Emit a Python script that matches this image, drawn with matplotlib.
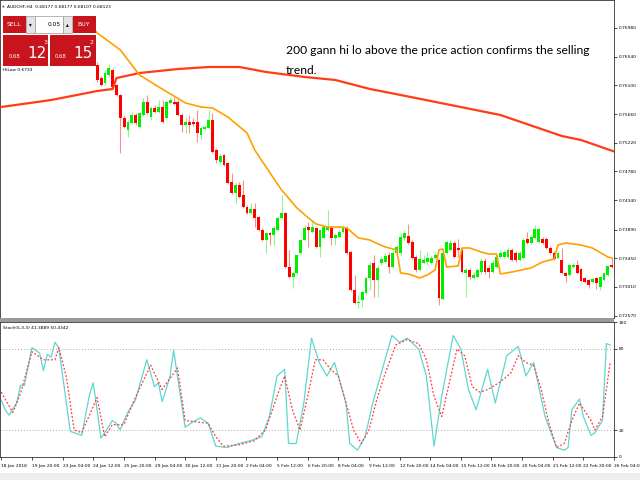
import matplotlib
matplotlib.use("Agg")
import matplotlib.pyplot as plt
from matplotlib.patches import Rectangle

# ---- data (AUDCHF H4) ----
first_bar = 25  # visible candles start here (earlier ones sit under the trade panel)

opens = [0.76413, 0.76213, 0.76137, 0.76259, 0.76336, 0.76106, 0.75953, 0.75600, 0.75416, 0.75524,
         0.75646, 0.75462, 0.75646, 0.75845, 0.75616, 0.75753, 0.75692, 0.75769, 0.75600, 0.75830,
         0.75845, 0.75845, 0.75646, 0.75493, 0.75539, 0.75539, 0.75539, 0.75340, 0.75432, 0.75447,
         0.75570, 0.75110, 0.74926, 0.75033, 0.74910, 0.74619, 0.74450, 0.74573, 0.74420, 0.74236,
         0.74144, 0.74205, 0.74082, 0.73883, 0.73730, 0.73837, 0.73806, 0.73883, 0.74067, 0.74144,
         0.73316, 0.73163, 0.73224, 0.73531, 0.73730, 0.73929, 0.73852, 0.73914, 0.73622, 0.73760,
         0.73883, 0.73914, 0.73760, 0.73776, 0.73852, 0.73914, 0.73546, 0.72963, 0.72764, 0.72810,
         0.72917, 0.73147, 0.73377, 0.73117, 0.73377, 0.73393, 0.73500, 0.73316, 0.73531, 0.73531,
         0.73760, 0.73791, 0.73699, 0.73469, 0.73270, 0.73377, 0.73393, 0.73377, 0.73454, 0.73423,
         0.72825, 0.73531, 0.73577, 0.73684, 0.73607, 0.73577, 0.73224, 0.73270, 0.73147, 0.73163,
         0.73239, 0.73408, 0.73301, 0.73239, 0.73316, 0.73469, 0.73469, 0.73469, 0.73577, 0.73531,
         0.73423, 0.73454, 0.73745, 0.73684, 0.73760, 0.73699, 0.73745, 0.73745, 0.73607, 0.73531,
         0.73454, 0.73423, 0.73224, 0.73193, 0.73316, 0.73347, 0.73285, 0.73147, 0.73117, 0.73086,
         0.73147, 0.73009, 0.73117, 0.73193, 0.73347]
highs = [0.76459, 0.76244, 0.76336, 0.76428, 0.76367, 0.76121, 0.75968, 0.75646, 0.75570, 0.75692,
         0.75677, 0.75692, 0.75907, 0.75953, 0.75784, 0.75799, 0.75876, 0.75876, 0.75876, 0.75907,
         0.75922, 0.75876, 0.75677, 0.75616, 0.75646, 0.75600, 0.75723, 0.75478, 0.75493, 0.75723,
         0.75677, 0.75140, 0.75048, 0.75048, 0.74926, 0.74757, 0.74604, 0.74619, 0.74650, 0.74266,
         0.74297, 0.74297, 0.74098, 0.73914, 0.73852, 0.73852, 0.73944, 0.74098, 0.74420, 0.74159,
         0.73577, 0.73239, 0.73515, 0.73745, 0.73960, 0.74006, 0.74036, 0.73929, 0.73898, 0.73960,
         0.74190, 0.73944, 0.73837, 0.73883, 0.73960, 0.73944, 0.73561, 0.73193, 0.72887, 0.72963,
         0.73163, 0.73393, 0.73500, 0.73347, 0.73485, 0.73531, 0.73546, 0.73577, 0.73653, 0.73837,
         0.73883, 0.73975, 0.73730, 0.73500, 0.73577, 0.73500, 0.73546, 0.73500, 0.73546, 0.73454,
         0.73577, 0.73730, 0.73730, 0.73714, 0.73745, 0.73607, 0.73301, 0.73301, 0.73239, 0.73301,
         0.73454, 0.73454, 0.73347, 0.73423, 0.73500, 0.73577, 0.73577, 0.73622, 0.73607, 0.73561,
         0.73561, 0.73760, 0.73852, 0.73806, 0.73960, 0.73914, 0.73776, 0.73776, 0.73638, 0.73561,
         0.73561, 0.73607, 0.73239, 0.73377, 0.73377, 0.73423, 0.73301, 0.73163, 0.73132, 0.73147,
         0.73163, 0.73178, 0.73239, 0.73347, 0.73469]
lows = [0.76152, 0.76091, 0.76106, 0.76229, 0.76060, 0.75937, 0.75064, 0.75447, 0.75309, 0.75508,
        0.75493, 0.75447, 0.75631, 0.75662, 0.75570, 0.75677, 0.75677, 0.75524, 0.75585, 0.75815,
        0.75799, 0.75631, 0.75386, 0.75370, 0.75370, 0.75478, 0.75232, 0.75263, 0.75416, 0.75432,
        0.75064, 0.74910, 0.74895, 0.74864, 0.74588, 0.74435, 0.74297, 0.74374, 0.74220, 0.74128,
        0.74128, 0.73929, 0.73868, 0.73714, 0.73531, 0.73653, 0.73653, 0.73868, 0.74052, 0.73301,
        0.73147, 0.72994, 0.73209, 0.73515, 0.73714, 0.73622, 0.73837, 0.73607, 0.73469, 0.73745,
        0.73868, 0.73653, 0.73653, 0.73760, 0.73837, 0.73515, 0.72948, 0.72749, 0.72687, 0.72703,
        0.72887, 0.72963, 0.72856, 0.72856, 0.73347, 0.73377, 0.73224, 0.73301, 0.73500, 0.73500,
        0.73730, 0.73669, 0.73439, 0.73239, 0.73255, 0.73362, 0.73347, 0.73362, 0.73439, 0.72733,
        0.72810, 0.73515, 0.73561, 0.73454, 0.73469, 0.73224, 0.72856, 0.73132, 0.73132, 0.73147,
        0.73209, 0.73209, 0.73147, 0.73224, 0.73301, 0.73454, 0.73454, 0.73454, 0.73408, 0.73393,
        0.73408, 0.73439, 0.73669, 0.73669, 0.73745, 0.73684, 0.73669, 0.73592, 0.73515, 0.73423,
        0.73439, 0.73209, 0.73086, 0.73178, 0.73301, 0.73209, 0.73086, 0.73071, 0.72994, 0.73071,
        0.72979, 0.72963, 0.73101, 0.73178, 0.73301]
closes = [0.76183, 0.76106, 0.76290, 0.76367, 0.76075, 0.75953, 0.75600, 0.75462, 0.75539, 0.75646,
          0.75524, 0.75677, 0.75845, 0.75677, 0.75753, 0.75692, 0.75769, 0.75539, 0.75845, 0.75876,
          0.75815, 0.75646, 0.75493, 0.75539, 0.75493, 0.75508, 0.75370, 0.75447, 0.75462, 0.75570,
          0.75079, 0.74956, 0.75018, 0.74880, 0.74604, 0.74450, 0.74573, 0.74389, 0.74236, 0.74144,
          0.74205, 0.74067, 0.73883, 0.73730, 0.73837, 0.73806, 0.73914, 0.74067, 0.74144, 0.73316,
          0.73163, 0.73224, 0.73500, 0.73730, 0.73914, 0.73883, 0.73929, 0.73622, 0.73883, 0.73929,
          0.73929, 0.73760, 0.73806, 0.73852, 0.73929, 0.73531, 0.72963, 0.72764, 0.72779, 0.72933,
          0.73147, 0.73347, 0.73117, 0.73301, 0.73439, 0.73485, 0.73316, 0.73531, 0.73622, 0.73776,
          0.73837, 0.73684, 0.73454, 0.73270, 0.73439, 0.73423, 0.73454, 0.73454, 0.73500, 0.72841,
          0.73531, 0.73699, 0.73684, 0.73469, 0.73577, 0.73239, 0.73270, 0.73163, 0.73193, 0.73270,
          0.73408, 0.73239, 0.73239, 0.73377, 0.73469, 0.73531, 0.73546, 0.73577, 0.73423, 0.73423,
          0.73531, 0.73730, 0.73684, 0.73776, 0.73898, 0.73898, 0.73684, 0.73607, 0.73531, 0.73439,
          0.73531, 0.73224, 0.73178, 0.73347, 0.73347, 0.73224, 0.73101, 0.73086, 0.73040, 0.73132,
          0.73071, 0.73163, 0.73224, 0.73331, 0.73316]

# Gann HiLo lines (bar index, price)
hilo_fast_bars = [22, 25, 31, 36, 41, 48, 52, 55, 59, 64, 66, 70, 73, 77, 80, 82, 85, 88, 90, 93, 96,
                  97, 100, 103, 104, 106, 109, 111, 113, 114, 115, 116, 119, 120, 122, 125, 127, 129, 130,
                  133, 138, 141, 144, 145, 147, 151, 154, 158, 159]
hilo_fast = [0.7712, 0.76903, 0.76643, 0.76259, 0.76076, 0.75830, 0.75769, 0.75754, 0.75616, 0.75370,
             0.75110, 0.74757, 0.74497, 0.74221, 0.74067, 0.73975, 0.73929, 0.73929, 0.73914, 0.73761,
             0.73730, 0.73699, 0.73623, 0.73577, 0.73224, 0.73209, 0.73148, 0.73194, 0.73271, 0.73577,
             0.73592, 0.73316, 0.73331, 0.73607, 0.73607, 0.73546, 0.73515, 0.73515, 0.73209, 0.73239,
             0.73301, 0.73393, 0.73439, 0.73653, 0.73684, 0.73653, 0.73607, 0.73469, 0.73454]
hilo_200_bars = [0, 13, 25, 29, 30, 36, 46, 54, 62, 69, 79, 87, 96, 104, 117, 130, 146, 151, 160]
hilo_200 = [0.75769, 0.75876, 0.76014, 0.76045, 0.76213, 0.76290, 0.76351, 0.76382, 0.76382, 0.76305,
            0.76229, 0.76183, 0.76045, 0.75953, 0.75800, 0.75646, 0.75324, 0.75263, 0.75079]

# Stochastic (5,3,3)
stoch_bars = [0, 1, 2, 4, 5, 6, 8, 10, 11, 12, 13, 14, 15, 18, 20, 21, 23, 24, 25, 26, 27, 29, 30, 31,
              33, 35, 38, 40, 41, 42, 44, 45, 48, 50, 52, 54, 56, 59, 62, 65, 68, 70, 72, 74, 75, 77,
              79, 81, 83, 85, 87, 90, 91, 93, 95, 97, 100, 102, 104, 106, 109, 111, 113, 115, 118, 120,
              122, 124, 127, 129, 132, 135, 137, 139, 142, 145, 147, 148, 149, 151, 152, 154, 155, 157,
              158, 159]
stoch_main = [42, 35, 31, 40, 53, 53, 81, 77, 64, 76, 74, 85, 81, 19, 17, 16, 46, 55, 35, 14, 18, 27, 25,
              20, 33, 42, 72, 52, 55, 41, 59, 79, 22, 26, 29, 25, 8, 7, 10, 12, 15, 30, 60, 65, 10, 10,
              40, 88, 70, 60, 70, 40, 10, 5, 15, 40, 70, 90, 85, 88, 80, 60, 8, 45, 90, 80, 50, 35, 65,
              40, 75, 82, 60, 70, 30, 7, 5, 7, 35, 43, 30, 16, 18, 27, 84, 83]
signal_bars = [0, 3, 5, 8, 11, 14, 15, 17, 19, 21, 25, 27, 29, 32, 35, 39, 42, 46, 48, 51, 54, 56, 58, 62,
               66, 69, 72, 74, 76, 78, 80, 82, 84, 86, 88, 90, 92, 94, 96, 98, 100, 103, 106, 109, 111,
               113, 115, 117, 119, 121, 123, 125, 127, 130, 133, 135, 137, 139, 141, 143, 145, 147, 149,
               151, 154, 155, 157, 159]
stoch_signal = [48, 33, 47, 78, 72, 72, 81, 59, 20, 18, 44, 15, 24, 24, 44, 68, 50, 66, 27, 26, 25, 15, 8,
                9, 12, 20, 45, 60, 35, 20, 45, 72, 72, 65, 60, 40, 20, 10, 20, 42, 60, 83, 87, 84, 72,
                45, 30, 55, 80, 75, 52, 48, 50, 55, 62, 75, 70, 68, 50, 25, 7, 10, 27, 40, 27, 20, 30, 70]

price_ticks = [0.72570, 0.73010, 0.73450, 0.73890, 0.74340, 0.74780, 0.75220, 0.75660, 0.76100, 0.76540, 0.76980]
date_labels = ["18 Jan 2018", "19 Jan 20:00", "23 Jan 04:00", "24 Jan 12:00", "25 Jan 20:00",
               "29 Jan 04:00", "30 Jan 12:00", "31 Jan 20:00", "2 Feb 04:00", "5 Feb 12:00",
               "6 Feb 20:00", "8 Feb 04:00", "9 Feb 12:00", "12 Feb 20:00", "14 Feb 04:00",
               "15 Feb 12:00", "16 Feb 20:00", "20 Feb 04:00", "21 Feb 12:00", "22 Feb 20:00",
               "26 Feb 04:00"]
bars_per_label = 8

small = 3.2  # MT4 uses a very small UI font in this screenshot

fig = plt.figure(figsize=(6.4, 4.8), dpi=100)
W, H = 640.0, 480.0
xlim = (-0.35, 159.6)

# ---- price panel ----
ax = fig.add_axes([0, 1 - 318 / H, 614 / W, 318 / H])
ax.set_xlim(*xlim)
ax.set_ylim(0.72534, 0.77409)

for k in range(len(opens)):
    x = first_bar + k
    o, h, l, c = opens[k], highs[k], lows[k], closes[k]
    col = "#00ee00" if c >= o else "#ff0000"
    ax.vlines(x, l, h, color=col, lw=0.8, alpha=0.45, zorder=2)
    ax.bar(x, max(abs(c - o), 0.00003), bottom=min(o, c), width=0.75, color=col, lw=0, zorder=3)

ax.plot(hilo_200_bars, hilo_200, color="#ff3c14", lw=1.6, zorder=4)
ax.plot(hilo_fast_bars, hilo_fast, color="#ffa000", lw=1.2, zorder=4)

ax.yaxis.tick_right()
ax.set_yticks(price_ticks)
ax.set_yticklabels([f"{p:.5f}" for p in price_ticks], fontsize=small)
ax.tick_params(axis="y", direction="out", length=2, width=0.5, pad=1.5)
ax.set_xticks([])
for s in ax.spines.values():
    s.set_linewidth(0.6)
    s.set_color("#333333")

# ---- stochastic panel ----
ax2 = fig.add_axes([0, 1 - 457 / H, 614 / W, (457 - 322) / H])
ax2.set_xlim(*xlim)
ax2.set_ylim(0, 100)
ax2.axhline(80, color="#aaaaaa", ls=(0, (1, 2)), lw=0.7)
ax2.axhline(20, color="#aaaaaa", ls=(0, (1, 2)), lw=0.7)
ax2.plot(stoch_bars, stoch_main, color="#5fd6d0", lw=0.9)
ax2.plot(signal_bars, stoch_signal, color="#ff3b3b", lw=0.9, ls=(0, (1.5, 1.5)))
ax2.yaxis.tick_right()
ax2.set_yticks([0, 20, 80, 100])
ax2.set_yticklabels(["0", "20", "80", "100"], fontsize=small)
ax2.tick_params(axis="y", direction="out", length=2, width=0.5, pad=1.5)
label_bars = [i * bars_per_label for i in range(len(date_labels))]
ax2.set_xticks(label_bars)
ax2.set_xticklabels(date_labels, fontsize=small, ha="left")
ax2.tick_params(axis="x", direction="out", length=2.5, width=0.5, pad=2.5)
for s in ax2.spines.values():
    s.set_linewidth(0.6)
    s.set_color("#333333")

# ---- overlay in pixel coordinates: window furniture and note ----
ov = fig.add_axes([0, 0, 1, 1], zorder=10)
ov.set_xlim(0, W)
ov.set_ylim(H, 0)
ov.axis("off")
ov.patch.set_alpha(0)

ov.add_patch(Rectangle((0, 318), 614, 4, color="#9a9a9a", lw=0))
ov.add_patch(Rectangle((0, 473), 640, 7, color="#eeeeee", lw=0))

ov.text(286, 50, "200 gann hi lo above the price action confirms the selling",
        fontsize=8.7, family="Lato", va="center")
ov.text(286, 71, "trend.", fontsize=8.7, family="Lato", va="center")

ov.text(2, 7, "\u25b2", fontsize=2.5, color="#555555", va="center")
ov.text(7, 7, "AUDCHF,H4  0.68177 0.68177 0.68107 0.68123", fontsize=small, va="center")
ov.text(3, 70, "HiLow 0.6733", fontsize=small, va="center")
ov.text(3, 328, "Stoch(5,3,3) 41.3889 50.4342", fontsize=small, va="center")

red = "#c8141c"
ov.add_patch(Rectangle((3, 16), 23, 17, color=red, lw=0))
ov.add_patch(Rectangle((73, 16), 23, 17, color=red, lw=0))
ov.add_patch(Rectangle((26, 16), 9, 17, facecolor="#e4e4e4", edgecolor="#999999", lw=0.5))
ov.add_patch(Rectangle((35, 16), 28, 17, facecolor="white", edgecolor="#999999", lw=0.5))
ov.add_patch(Rectangle((63, 16), 9, 17, facecolor="#e4e4e4", edgecolor="#999999", lw=0.5))
ov.add_patch(Rectangle((3, 35), 45, 31, color=red, lw=0))
ov.add_patch(Rectangle((50, 35), 46, 31, color=red, lw=0))
ov.text(14, 25, "SELL", color="white", fontsize=4.5, ha="center", va="center")
ov.text(84, 25, "BUY", color="white", fontsize=4.5, ha="center", va="center")
ov.text(30.5, 25, "\u25be", fontsize=4, ha="center", va="center")
ov.text(67.5, 25, "\u25b4", fontsize=4, ha="center", va="center")
ov.text(61, 25, "0.05", fontsize=4.2, ha="right", va="center")
ov.text(9, 57, "0.68", color="white", fontsize=3.8, va="center")
ov.text(27, 53, "12", color="white", fontsize=11, va="center")
ov.text(44, 42, "3", color="white", fontsize=4.5, va="center")
ov.text(55, 57, "0.68", color="white", fontsize=3.8, va="center")
ov.text(73, 53, "15", color="white", fontsize=11, va="center")
ov.text(90, 42, "2", color="white", fontsize=4.5, va="center")

fig.savefig("out.png", dpi=100)
